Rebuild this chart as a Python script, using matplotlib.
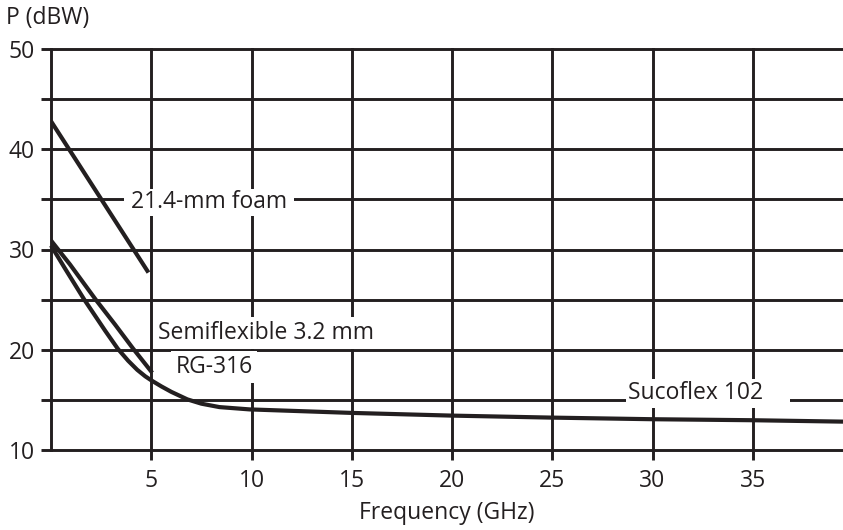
import numpy as np
import matplotlib
matplotlib.use("Agg")
from matplotlib import pyplot as plt

plt.rcParams['font.family'] = ['Open Sans', 'DejaVu Sans']

# curve data (GHz, dBW)
foam_f = [0.0, 4.86]
foam_p = [42.8, 27.7]

semi_f = [0.0, 0.95, 2.23, 3.2, 4.1, 5.05]
semi_p = [30.9, 28.5, 25.0, 22.5, 20.1, 17.7]

rg_f = [0.0, 0.7, 1.66, 2.7, 3.33, 3.85, 4.3, 4.7, 5.0, 5.5, 6.0, 6.8, 7.5, 8.4,
        9.9, 15.0, 20.0, 25.0, 30.0, 35.0, 39.5]
rg_p = [30.4, 28.1, 25.0, 21.9, 20.1, 18.9, 18.0, 17.35, 16.95, 16.35, 15.8,
        15.05, 14.62, 14.28, 14.05, 13.7, 13.43, 13.23, 13.07, 12.97, 12.83]

x_ticks = [5, 10, 15, 20, 25, 30, 35]
y_ticks = [10, 15, 20, 25, 30, 35, 40, 45, 50]
y_labels = ['10', '', '20', '', '30', '', '40', '', '50']

ink = '#231f20'
fs = 16.5

fig = plt.figure(figsize=(8.43, 5.30), dpi=100)
ax = fig.add_axes([51 / 843, 80 / 530, 792 / 843, 401 / 530])

ax.set_xlim(0, 39.5)
ax.set_ylim(10, 50)
for s in ax.spines.values():
    s.set_visible(False)

# grid
for y in y_ticks:
    ax.axhline(y, color=ink, lw=2.1, clip_on=False, zorder=1)
ax.axvline(0, color=ink, lw=2.1, clip_on=False, zorder=1)
for x in x_ticks:
    ax.axvline(x, color=ink, lw=2.1, clip_on=False, zorder=1)

ax.set_xticks(x_ticks)
ax.set_yticks(y_ticks)
ax.set_yticklabels(y_labels)
ax.tick_params(direction='out', length=7.5, width=2.1, color=ink,
               labelsize=fs, labelcolor=ink)
ax.tick_params(axis='y', pad=4)
ax.tick_params(axis='x', pad=6)

# curves
ax.plot(foam_f, foam_p, color=ink, lw=3, solid_capstyle='butt', zorder=4)
ax.plot(semi_f, semi_p, color=ink, lw=3, solid_capstyle='butt', zorder=4)
ax.plot(rg_f, rg_p, color=ink, lw=3, solid_capstyle='butt', zorder=4, clip_on=False)

# labels with white boxes that break the grid
ax.text(7.88, 34.7, ' 21.4-mm foam ', ha='center', va='center', fontsize=fs,
        color=ink, bbox=dict(facecolor='white', edgecolor='none', pad=1), zorder=3)
ax.text(5.35, 21.65, 'Semiflexible 3.2 mm ', ha='left', va='center', fontsize=fs,
        color=ink, bbox=dict(facecolor='white', edgecolor='none', pad=3), zorder=3)
ax.text(6.2, 18.25, 'RG-316', ha='left', va='center', fontsize=fs,
        color=ink, bbox=dict(facecolor='white', edgecolor='none', pad=3), zorder=3)
ax.text(28.8, 15.65, 'Sucoflex 102    ', ha='left', va='center', fontsize=fs,
        color=ink, bbox=dict(facecolor='white', edgecolor='none', pad=2), zorder=3)

ax.set_xlabel('Frequency (GHz)', fontsize=fs, color=ink, labelpad=6)
fig.text(6 / 843, 1 - 18 / 530, 'P (dBW)', ha='left', va='center',
         fontsize=fs, color=ink)

fig.savefig('out.png', dpi=100)
